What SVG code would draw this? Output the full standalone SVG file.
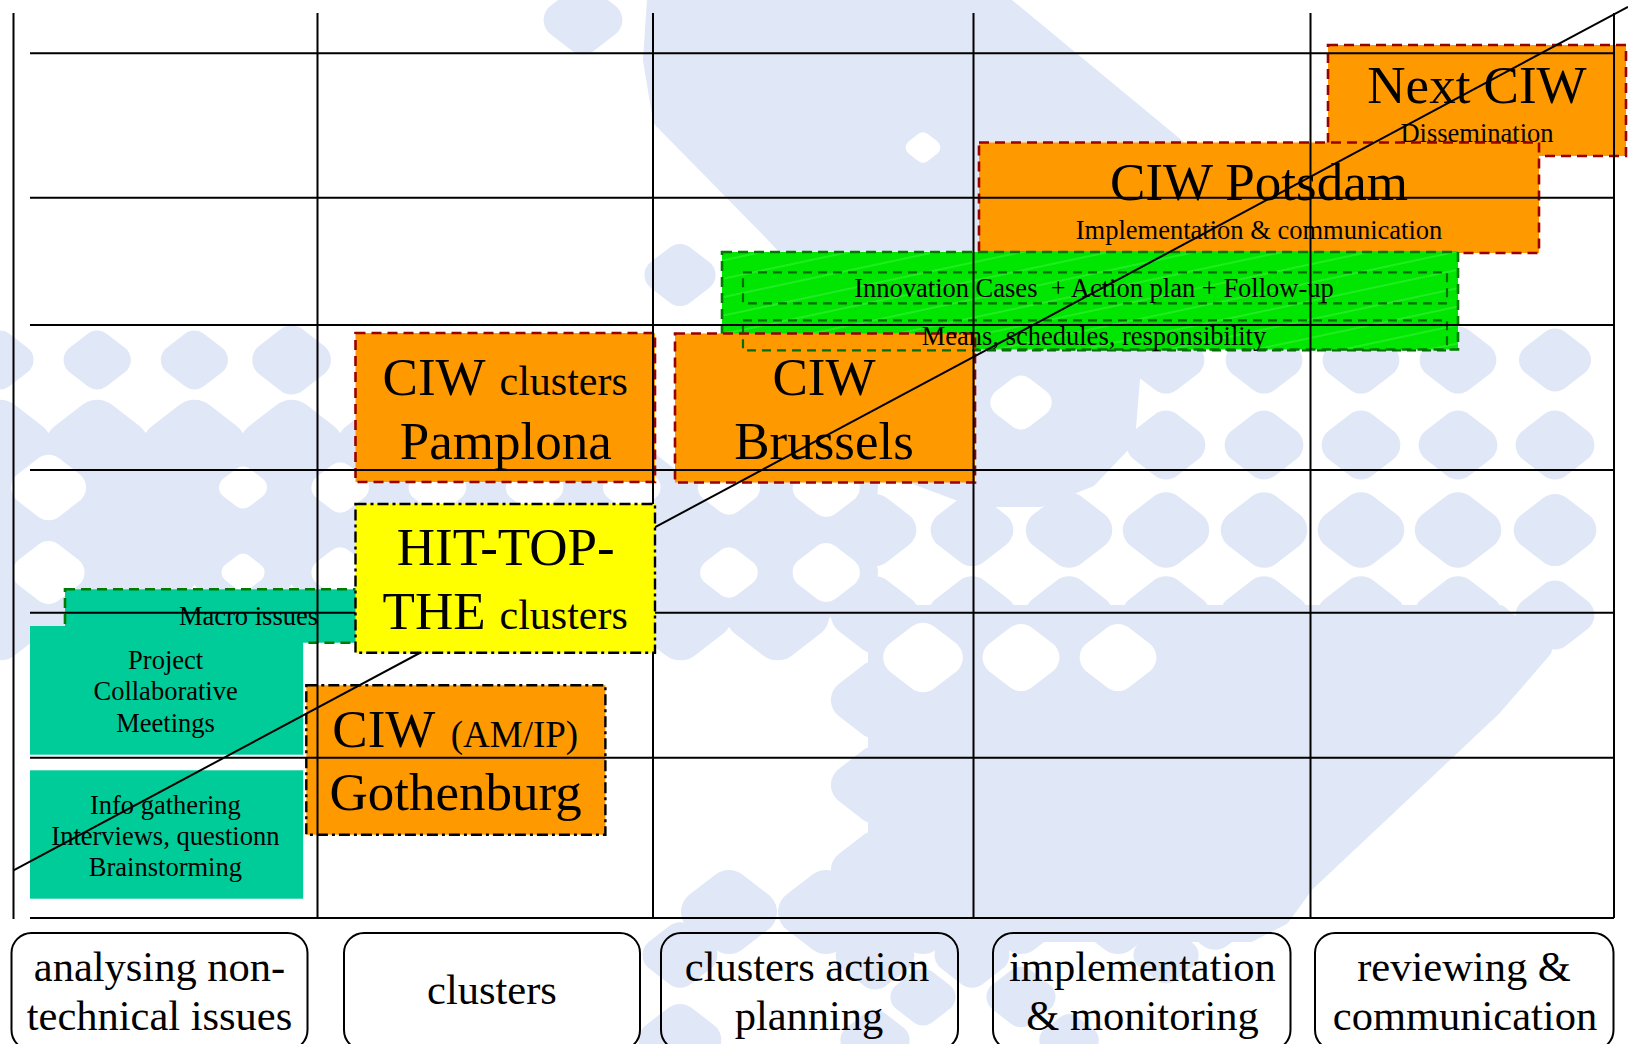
<svg xmlns="http://www.w3.org/2000/svg" width="1628" height="1044" viewBox="0 0 1628 1044">
  <style>
    text { font-family: "Liberation Serif", "Times New Roman", serif; fill: #000; }
    .big { font-size: 53px; }
    .mid { font-size: 42px; }
    .par { font-size: 37px; }
    .sm { font-size: 26.5px; }
    .lab { font-size: 42.5px; }
    .c { text-anchor: middle; }
    .or { fill: #FF9900; }
    .dr { stroke: #990000; stroke-width: 2.6; stroke-dasharray: 10 6; }
    .dd { stroke: #000; stroke-width: 2.4; stroke-dasharray: 11 4 3 4; }
    .dg { stroke: #007A00; stroke-width: 2.6; stroke-dasharray: 10 6; }
    .dgi { fill: none; stroke: #006E00; stroke-width: 2.2; stroke-dasharray: 9 6; }
    .teal { fill: #00CC99; }
    .grid path { stroke: #000; stroke-width: 2; fill: none; }
    .phase { fill: none; stroke: #000; stroke-width: 2; }
  </style>
  <defs>
    <!-- rounded diamond used for the halftone backdrop -->
    <polygon id="dm" points="0,-20 26,0 0,20 -26,0" stroke-width="44" stroke-linejoin="round"/>
    <pattern id="hatch" width="18" height="18" patternUnits="userSpaceOnUse" patternTransform="rotate(-12)">
      <rect width="18" height="18" fill="#00E600"/>
      <line x1="0" y1="9" x2="18" y2="9" stroke="#8CFF8C" stroke-width="1" stroke-opacity="0.45"/>
    </pattern>
  </defs>

  <rect width="1628" height="1044" fill="#FFFFFF"/>

  <!-- light halftone backdrop -->
  <g id="backdrop">
    <g fill="#E0E7F6" stroke="#E0E7F6">
      <polygon stroke-width="14" stroke-linejoin="round" points="654,0 1001,0 1180,148 1185,330 1135,355 1128,440 1090,480 1040,500 975,500 895,470 880,350 768,230 660,120 650,60"/>
      <use href="#dm" transform="translate(583,20) scale(0.82)"/>
      <use href="#dm" transform="translate(680,275) scale(0.74)"/>
      <!-- row y=360 -->
      <use href="#dm" transform="translate(0,360) scale(0.7)"/>
      <use href="#dm" transform="translate(97.2,360) scale(0.7)"/>
      <use href="#dm" transform="translate(194.4,360) scale(0.7)"/>
      <use href="#dm" transform="translate(291.6,360) scale(0.82)"/>
      <use href="#dm" transform="translate(1166,360) scale(0.8)"/>
      <use href="#dm" transform="translate(1264,360) scale(0.8)"/>
      <use href="#dm" transform="translate(1361,360) scale(0.8)"/>
      <use href="#dm" transform="translate(1458,360) scale(0.8)"/>
      <use href="#dm" transform="translate(1555,360) scale(0.75)"/>
      <!-- row y=445 -->
      <use href="#dm" transform="translate(1166,445) scale(0.82)"/>
      <use href="#dm" transform="translate(1264,445) scale(0.82)"/>
      <use href="#dm" transform="translate(1361,445) scale(0.82)"/>
      <use href="#dm" transform="translate(1458,445) scale(0.82)"/>
      <use href="#dm" transform="translate(1555,445) scale(0.82)"/>
      <!-- row y=530 -->
      <use href="#dm" transform="translate(875,530) scale(0.86)"/>
      <use href="#dm" transform="translate(972,530) scale(0.86)"/>
      <use href="#dm" transform="translate(1069,530) scale(0.9)"/>
      <use href="#dm" transform="translate(1166,530) scale(0.9)"/>
      <use href="#dm" transform="translate(1264,530) scale(0.9)"/>
      <use href="#dm" transform="translate(1361,530) scale(0.9)"/>
      <use href="#dm" transform="translate(1458,530) scale(0.9)"/>
      <use href="#dm" transform="translate(1555,530) scale(0.86)"/>
      <!-- dense band on the left -->
      <use href="#dm" transform="translate(0,445) scale(1.08)"/>
      <use href="#dm" transform="translate(97.2,445) scale(1.08)"/>
      <use href="#dm" transform="translate(194.4,445) scale(1.08)"/>
      <use href="#dm" transform="translate(291.6,445) scale(1.08)"/>
      <use href="#dm" transform="translate(388.8,445) scale(1.08)"/>
      <use href="#dm" transform="translate(486,445) scale(1.08)"/>
      <use href="#dm" transform="translate(583.2,445) scale(1.08)"/>
      <use href="#dm" transform="translate(48.6,487.5) scale(1.08)"/>
      <use href="#dm" transform="translate(145.8,487.5) scale(1.08)"/>
      <use href="#dm" transform="translate(243,487.5) scale(1.08)"/>
      <use href="#dm" transform="translate(340.2,487.5) scale(1.08)"/>
      <use href="#dm" transform="translate(437.4,487.5) scale(1.08)"/>
      <use href="#dm" transform="translate(534.6,487.5) scale(1.08)"/>
      <use href="#dm" transform="translate(631.8,487.5) scale(1.08)"/>
      <use href="#dm" transform="translate(729,487.5) scale(1.08)"/>
      <use href="#dm" transform="translate(826.2,487.5) scale(1.08)"/>
      <use href="#dm" transform="translate(0,530) scale(1.08)"/>
      <use href="#dm" transform="translate(97.2,530) scale(1.08)"/>
      <use href="#dm" transform="translate(194.4,530) scale(1.08)"/>
      <use href="#dm" transform="translate(291.6,530) scale(1.08)"/>
      <use href="#dm" transform="translate(388.8,530) scale(1.08)"/>
      <use href="#dm" transform="translate(486,530) scale(1.08)"/>
      <use href="#dm" transform="translate(583.2,530) scale(1.08)"/>
      <use href="#dm" transform="translate(680.4,530) scale(1.08)"/>
      <use href="#dm" transform="translate(777.6,530) scale(1.08)"/>
      <use href="#dm" transform="translate(48.6,572.5) scale(1.08)"/>
      <use href="#dm" transform="translate(145.8,572.5) scale(1.08)"/>
      <use href="#dm" transform="translate(243,572.5) scale(1.08)"/>
      <use href="#dm" transform="translate(340.2,572.5) scale(1.08)"/>
      <use href="#dm" transform="translate(437.4,572.5) scale(1.08)"/>
      <use href="#dm" transform="translate(534.6,572.5) scale(1.08)"/>
      <use href="#dm" transform="translate(631.8,572.5) scale(1.08)"/>
      <use href="#dm" transform="translate(729,572.5) scale(1.08)"/>
      <use href="#dm" transform="translate(826.2,572.5) scale(1.08)"/>
      <use href="#dm" transform="translate(0,615) scale(1.08)"/>
      <use href="#dm" transform="translate(97.2,615) scale(1.08)"/>
      <use href="#dm" transform="translate(680.4,615) scale(1.08)"/>
      <use href="#dm" transform="translate(777.6,615) scale(1.08)"/>
      <!-- large lower block -->
      <polygon stroke-width="14" stroke-linejoin="round" points="875,612 1500,612 1545,650 1494,709 1307,885 1283,918 1250,935 875,935"/>
      <use href="#dm" transform="translate(875,615) scale(0.92)"/>
      <use href="#dm" transform="translate(875,700) scale(0.92)"/>
      <use href="#dm" transform="translate(875,785) scale(0.92)"/>
      <use href="#dm" transform="translate(875,870) scale(0.92)"/>
      <use href="#dm" transform="translate(972,615) scale(0.92)"/>
      <use href="#dm" transform="translate(1069,615) scale(0.92)"/>
      <use href="#dm" transform="translate(1166,615) scale(0.92)"/>
      <use href="#dm" transform="translate(1264,615) scale(0.92)"/>
      <use href="#dm" transform="translate(1361,615) scale(0.92)"/>
      <use href="#dm" transform="translate(1458,615) scale(0.92)"/>
      <use href="#dm" transform="translate(1555,615) scale(0.82)"/>
      <!-- beads below the table -->
      <use href="#dm" transform="translate(729,912) scale(1)"/>
      <use href="#dm" transform="translate(826,912) scale(1)"/>
      <use href="#dm" transform="translate(923,912) scale(1)"/>
      <use href="#dm" transform="translate(1021,912) scale(1)"/>
      <use href="#dm" transform="translate(1118,912) scale(1)"/>
      <use href="#dm" transform="translate(1215,912) scale(0.9)"/>
      <use href="#dm" transform="translate(680,955) scale(0.78)"/>
      <use href="#dm" transform="translate(875,955) scale(0.82)"/>
      <use href="#dm" transform="translate(972,955) scale(0.78)"/>
      <use href="#dm" transform="translate(1166,955) scale(0.68)"/>
      <use href="#dm" transform="translate(923,997) scale(0.68)"/>
      <use href="#dm" transform="translate(1021,997) scale(0.72)"/>
      <use href="#dm" transform="translate(680,1040) scale(0.86)"/>
      <use href="#dm" transform="translate(875,1040) scale(0.72)"/>
      <use href="#dm" transform="translate(1069,1040) scale(0.62)"/>
    </g>
    <!-- openings in the dense areas -->
    <g fill="#FFFFFF" stroke="#FFFFFF">
      <use href="#dm" transform="translate(923,-22) scale(0.45)"/>
      <use href="#dm" transform="translate(923,147.5) scale(0.36)"/>
      <use href="#dm" transform="translate(1021,402.5) scale(0.64)"/>
      <use href="#dm" transform="translate(48.6,487.5) scale(0.78)"/>
      <use href="#dm" transform="translate(243,487.5) scale(0.5)"/>
      <use href="#dm" transform="translate(340.2,487.5) scale(0.6)"/>
      <use href="#dm" transform="translate(437.4,487.5) scale(0.6)"/>
      <use href="#dm" transform="translate(534.6,487.5) scale(0.6)"/>
      <use href="#dm" transform="translate(631.8,487.5) scale(0.6)"/>
      <use href="#dm" transform="translate(729,487.5) scale(0.65)"/>
      <use href="#dm" transform="translate(826.2,487.5) scale(0.7)"/>
      <use href="#dm" transform="translate(48.6,572.5) scale(0.75)"/>
      <use href="#dm" transform="translate(243,572.5) scale(0.45)"/>
      <use href="#dm" transform="translate(340.2,572.5) scale(0.6)"/>
      <use href="#dm" transform="translate(729,572.5) scale(0.6)"/>
      <use href="#dm" transform="translate(826.2,572.5) scale(0.7)"/>
      <use href="#dm" transform="translate(923,657.5) scale(0.83)"/>
      <use href="#dm" transform="translate(1021,657.5) scale(0.8)"/>
      <use href="#dm" transform="translate(1118,657.5) scale(0.8)"/>
    </g>
  </g>

  <!-- workshop boxes -->
  <g id="node-next-ciw">
    <rect class="or dr" x="1328" y="45" width="298" height="111"/>
    <text class="big c" x="1477" y="103">Next CIW</text>
    <text class="sm c" x="1477" y="142">Dissemination</text>
  </g>
  <g id="node-potsdam">
    <rect class="or dr" x="979" y="142.5" width="560" height="110.5"/>
    <text class="big c" x="1259" y="200">CIW Potsdam</text>
    <text class="sm c" x="1259" y="239">Implementation &amp; communication</text>
  </g>
  <g id="node-action-plan">
    <rect x="722" y="252" width="736" height="97.5" fill="url(#hatch)" class="dg"/>
  </g>
  <g id="node-brussels">
    <rect class="or dr" x="675" y="333.5" width="300" height="149"/>
    <text class="big c" x="824" y="395">CIW</text>
    <text class="big c" x="824" y="459">Brussels</text>
  </g>
  <g id="node-innovation-cases">
    <rect class="dgi" x="743" y="272.3" width="704" height="31"/>
    <text class="sm c" x="1094" y="296.7" xml:space="preserve">Innovation Cases  + Action plan + Follow-up</text>
  </g>
  <g id="node-means">
    <rect class="dgi" x="743" y="320.3" width="704" height="30"/>
    <text class="sm c" x="1094" y="345">Means, schedules, responsibility</text>
  </g>
  <g id="node-pamplona">
    <rect class="or dr" x="355.5" y="333" width="299.5" height="149"/>
    <text y="395"><tspan class="big" x="382.6">CIW</tspan><tspan class="mid" x="499.5">clusters</tspan></text>
    <text class="big c" x="505.7" y="459">Pamplona</text>
  </g>
  <g id="node-macro-issues">
    <rect class="teal dg" x="65" y="589.3" width="300" height="53.4"/>
    <text class="sm c" x="248.5" y="624.7">Macro issues</text>
  </g>
  <g id="node-project-meetings">
    <rect class="teal" x="30" y="626" width="273.2" height="128.7"/>
    <text class="sm c" x="165.6" y="668.7">Project</text>
    <text class="sm c" x="165.6" y="700.3">Collaborative</text>
    <text class="sm c" x="165.6" y="732">Meetings</text>
  </g>
  <g id="node-info-gathering">
    <rect class="teal" x="30" y="770.3" width="273.2" height="128.4"/>
    <text class="sm c" x="165.4" y="813.7">Info gathering</text>
    <text class="sm c" x="165.4" y="844.7">Interviews, questionn</text>
    <text class="sm c" x="165.4" y="876.3">Brainstorming</text>
  </g>
  <g id="node-gothenburg">
    <rect class="or dd" x="306.3" y="685.3" width="299.1" height="149.4"/>
    <text y="747"><tspan class="big" x="332.3">CIW</tspan><tspan class="par" x="450.7">(AM/IP)</tspan></text>
    <text class="big c" x="455.6" y="810.3">Gothenburg</text>
  </g>

  <!-- phase table -->
  <g id="grid" class="grid">
    <path d="M13.5 13 V919 M317.5 13 V918 M653 13 V918 M973.5 13 V918 M1310.5 13 V918 M1614 13 V918"/>
    <path d="M30 53.3 H1614 M30 197.7 H1614 M30 325 H1614 M30 470 H1614 M30 612.7 H1614 M30 757.7 H1614 M30 918 H1614"/>
  </g>

  <!-- progression line -->
  <g id="connectors">
    <line x1="13.5" y1="870.3" x2="1628" y2="6.8" stroke="#000" stroke-width="2"/>
  </g>

  <g id="node-hit-top-the">
    <rect x="355.5" y="504" width="299.5" height="148.7" fill="#FFFF00" class="dd"/>
    <text class="big c" x="505.7" y="565.3">HIT-TOP-</text>
    <text y="629.3"><tspan class="big" x="382.6">THE</tspan><tspan class="mid" x="499.5">clusters</tspan></text>
  </g>

  <!-- phase labels -->
  <g id="phase-analysing">
    <rect class="phase" x="11.5" y="933" width="296" height="117" rx="20"/>
    <text class="lab c" x="159.5" y="981">analysing non-</text>
    <text class="lab c" x="159.5" y="1030">technical issues</text>
  </g>
  <g id="phase-clusters">
    <rect class="phase" x="344" y="933" width="296" height="117" rx="20"/>
    <text class="lab c" x="492" y="1003.7">clusters</text>
  </g>
  <g id="phase-action-planning">
    <rect class="phase" x="661" y="933" width="297" height="117" rx="20"/>
    <text class="lab c" x="807" y="981">clusters action</text>
    <text class="lab c" x="809" y="1030">planning</text>
  </g>
  <g id="phase-implementation">
    <rect class="phase" x="993" y="933" width="297.5" height="117" rx="20"/>
    <text class="lab c" x="1142.4" y="981">implementation</text>
    <text class="lab c" x="1142.6" y="1030">&amp; monitoring</text>
  </g>
  <g id="phase-reviewing">
    <rect class="phase" x="1315" y="933" width="298.5" height="117" rx="20"/>
    <text class="lab c" x="1464" y="981">reviewing &amp;</text>
    <text class="lab c" x="1465" y="1030">communication</text>
  </g>
</svg>
